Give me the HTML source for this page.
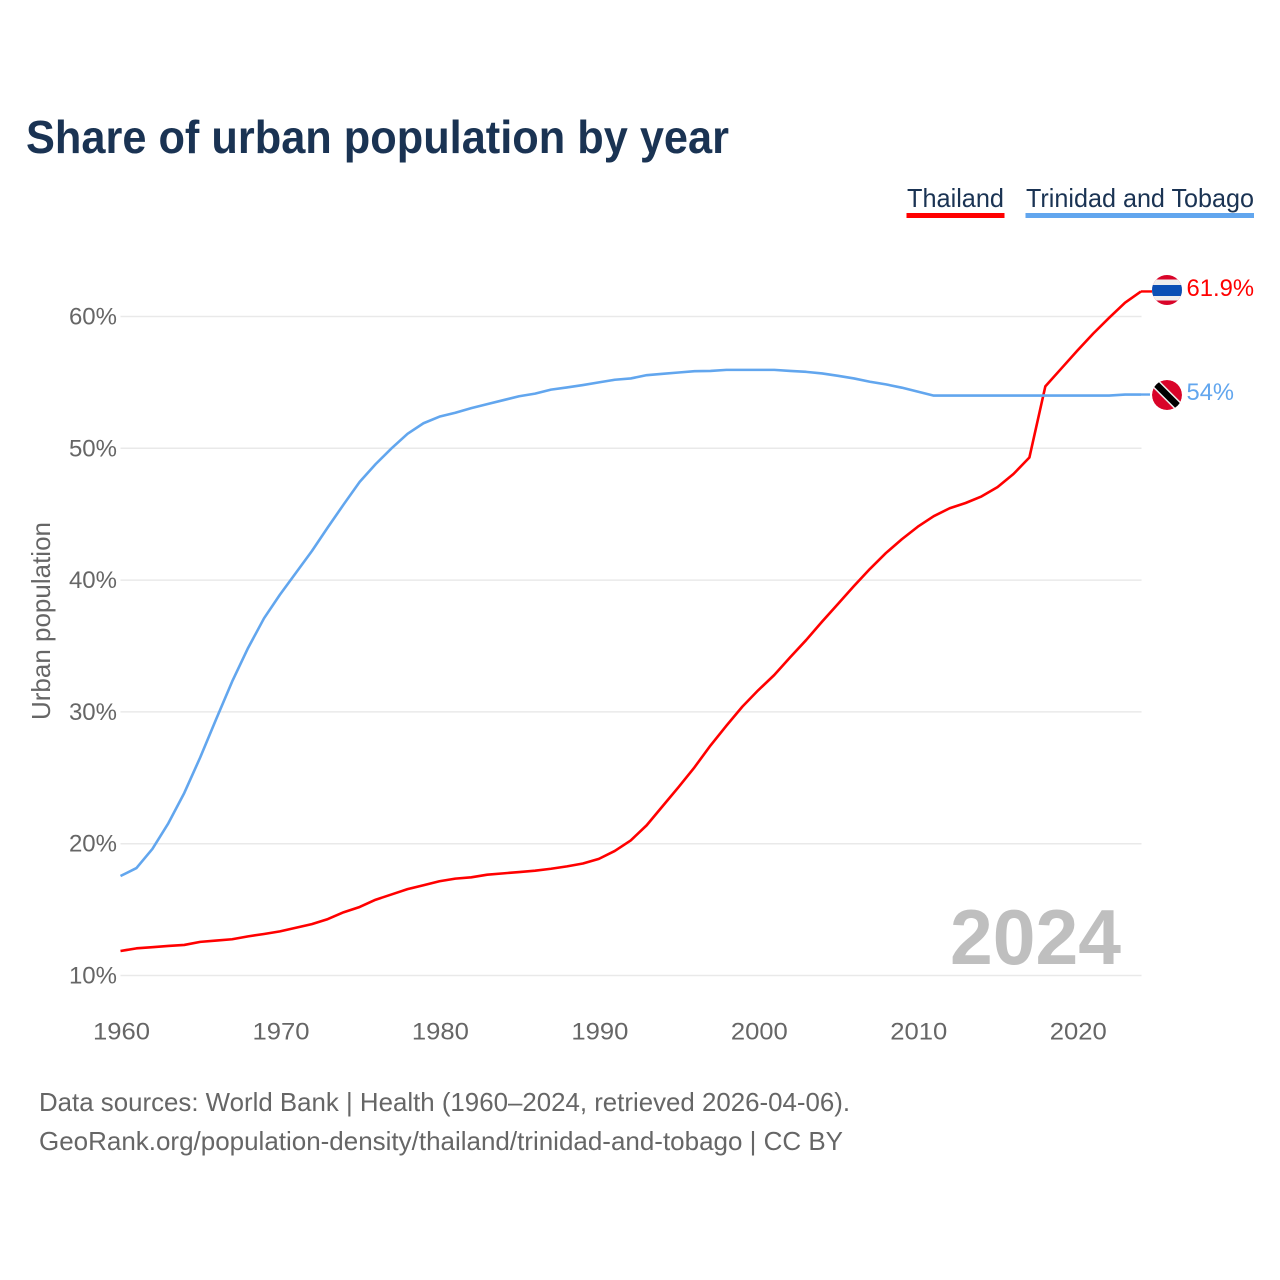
<!DOCTYPE html>
<html lang="en">
<head>
<meta charset="utf-8">
<title>Share of urban population by year</title>
<style>
html,body{margin:0;padding:0;background:#fff;}
svg{display:block;font-family:"Liberation Sans",sans-serif;}
</style>
</head>
<body>
<svg id="chart" xmlns="http://www.w3.org/2000/svg" width="1280" height="1280" viewBox="0 0 1280 1280">
  <defs>
    <clipPath id="thai-clip"><circle cx="1167" cy="290" r="15"></circle></clipPath>
    <clipPath id="tt-clip"><circle cx="1167" cy="395" r="15"></circle></clipPath>
  </defs>
  <rect x="0" y="0" width="1280" height="1280" fill="#ffffff"></rect>
  <text x="26" y="153" font-size="46" font-weight="700" fill="#1a3353" textLength="703" lengthAdjust="spacingAndGlyphs">Share of urban population by year</text>

  <g>
    <g>
      <text x="907" y="207" font-size="26" fill="#1a3353" textLength="97" lengthAdjust="spacingAndGlyphs">Thailand</text>
      <rect x="906.5" y="213" width="98" height="5" fill="#ff0000"></rect>
    </g>
    <g>
      <text x="1026" y="207" font-size="26" fill="#1a3353" textLength="228" lengthAdjust="spacingAndGlyphs">Trinidad and Tobago</text>
      <rect x="1025.5" y="213" width="228.5" height="5" fill="#62a6ee"></rect>
    </g>
  </g>

  <g id="grid"></g>
  <g id="y-ticks"></g>
  <g id="x-ticks"></g>
  <text transform="translate(50,720) rotate(-90)" font-size="26" fill="#666666" textLength="198" lengthAdjust="spacingAndGlyphs">Urban population</text>
  <text id="year-watermark" x="950" y="964" font-size="78" font-weight="700" fill="#bfbfbf" textLength="171" lengthAdjust="spacingAndGlyphs">2024</text>
  <g id="series"></g>

  <g clip-path="url(#thai-clip)">
    <rect x="1150" y="274" width="34" height="32" fill="#d90429"></rect>
    <rect x="1150" y="279.5" width="34" height="21" fill="#eeeeee"></rect>
    <rect x="1150" y="285" width="34" height="11" fill="#0a4fb5"></rect>
  </g>
  <g clip-path="url(#tt-clip)">
    <circle cx="1167" cy="395" r="15" fill="#d90429"></circle>
    <line x1="1150" y1="378" x2="1184" y2="412" stroke="#eeeeee" stroke-width="9.5"></line>
    <line x1="1150" y1="378" x2="1184" y2="412" stroke="#000000" stroke-width="6.5"></line>
  </g>
  <text x="1186.5" y="296" font-size="24" fill="#ff0000" textLength="67.5" lengthAdjust="spacingAndGlyphs">61.9%</text>
  <text x="1186.5" y="400" font-size="24" fill="#62a6ee" textLength="47.5" lengthAdjust="spacingAndGlyphs">54%</text>

  <g>
    <text x="39" y="1111" font-size="26" fill="#666666" textLength="811" lengthAdjust="spacingAndGlyphs">Data sources: World Bank | Health (1960–2024, retrieved 2026-04-06).</text>
    <text x="39" y="1150" font-size="26" fill="#666666" textLength="804" lengthAdjust="spacingAndGlyphs">GeoRank.org/population-density/thailand/trinidad-and-tobago | CC BY</text>
  </g>
</svg>
<script>
const firstYear = 1960;
const yTickValues = [10, 20, 30, 40, 50, 60];
const xTickValues = [1960, 1970, 1980, 1990, 2000, 2010, 2020];
const thailandValues = [
  11.86, 12.06, 12.15, 12.24, 12.32, 12.55, 12.65, 12.75, 12.97, 13.15,
  13.35, 13.62, 13.9, 14.28, 14.8, 15.2, 15.75, 16.15, 16.55, 16.85,
  17.15, 17.35, 17.45, 17.65, 17.75, 17.85, 17.95, 18.1, 18.28, 18.5,
  18.85, 19.45, 20.25, 21.4, 22.85, 24.3, 25.8, 27.45, 28.95, 30.4,
  31.65, 32.8, 34.15, 35.45, 36.85, 38.2, 39.55, 40.85, 42.05, 43.1,
  44.05, 44.85, 45.45, 45.85, 46.35, 47.05, 48.05, 49.3, 54.7, 56.05,
  57.4, 58.7, 59.9, 61.05, 61.9
];
const trinidadValues = [
  17.55, 18.15, 19.6, 21.55, 23.85, 26.55, 29.45, 32.3, 34.85, 37.1,
  38.9, 40.55, 42.2, 44.0, 45.75, 47.45, 48.8, 50.0, 51.1, 51.9,
  52.4, 52.7, 53.05, 53.35, 53.65, 53.95, 54.15, 54.45, 54.62, 54.8,
  55.0, 55.2, 55.3, 55.55, 55.65, 55.75, 55.85, 55.87, 55.95, 55.95,
  55.95, 55.95, 55.87, 55.8, 55.68, 55.5, 55.3, 55.05, 54.85, 54.6,
  54.3, 54.0, 54.0, 54.0, 54.0, 54.0, 54.0, 54.0, 54.0, 54.0,
  54.0, 54.0, 54.0, 54.08, 54.08
];
const svgNS = 'http://www.w3.org/2000/svg';
function xScale(year) { return 120.5 + (year - 1960) * (1141 - 120.5) / 64; }
function yScale(value) { return 975.5 - (value - 10) * (975.5 - 316.5) / 50; }
function make(tag, attrs, parent) {
  const el = document.createElementNS(svgNS, tag);
  for (const k in attrs) el.setAttribute(k, attrs[k]);
  parent.appendChild(el);
  return el;
}
function linePath(values) {
  return values.map((v, i) => (i ? 'L' : 'M') + xScale(firstYear + i).toFixed(2) + ' ' + yScale(v).toFixed(2)).join(' ');
}
const gridGroup = document.getElementById('grid');
const yGroup = document.getElementById('y-ticks');
const xGroup = document.getElementById('x-ticks');
const seriesGroup = document.getElementById('series');
yTickValues.forEach(v => {
  const gl = make('line', {x1: 120.5, x2: 1141.5, y1: yScale(v), y2: yScale(v), stroke: '#e9e9e9', 'stroke-width': 1.5}, gridGroup);
  
  
  const t = make('text', {x: 117, y: yScale(v) + 8, 'font-size': 24, fill: '#666666', 'text-anchor': 'end'}, yGroup);
  t.textContent = v + '%';
  
  
});
xTickValues.forEach(y => {
  const t = make('text', {x: xScale(y) + 1, y: 1039.5, 'font-size': 24, fill: '#666666', 'text-anchor': 'middle', textLength: 57, lengthAdjust: 'spacingAndGlyphs'}, xGroup);
  t.textContent = String(y);
  
  
});
const thaiLine = make('path', {d: linePath(thailandValues), fill: 'none', stroke: '#ff0000', 'stroke-width': 2.6, 'stroke-linejoin': 'round'}, seriesGroup);


const ttLine = make('path', {d: linePath(trinidadValues), fill: 'none', stroke: '#62a6ee', 'stroke-width': 2.6, 'stroke-linejoin': 'round'}, seriesGroup);


const thaiLead = make('line', {x1: xScale(2024), x2: 1152, y1: yScale(thailandValues[64]), y2: yScale(thailandValues[64]), stroke: '#ff0000', 'stroke-width': 2.4}, seriesGroup);


const ttLead = make('line', {x1: xScale(2024), x2: 1150, y1: yScale(trinidadValues[64]), y2: yScale(trinidadValues[64]), stroke: '#62a6ee', 'stroke-width': 2.4}, seriesGroup);


</script>
</body>
</html>
